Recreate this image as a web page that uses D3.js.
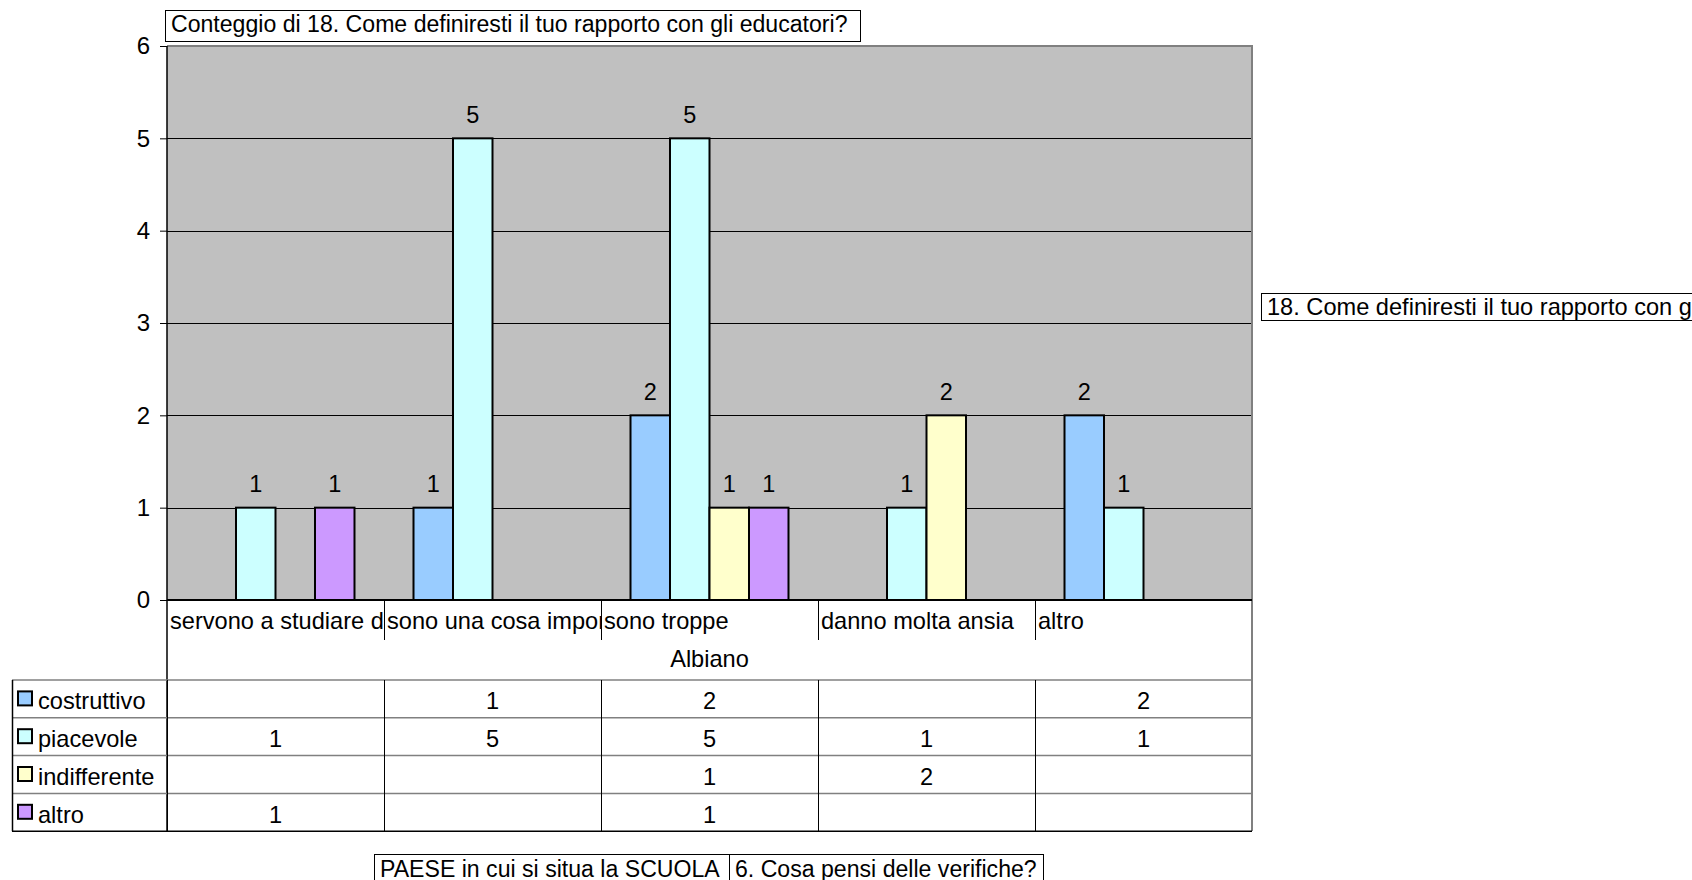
<!DOCTYPE html>
<html><head><meta charset="utf-8">
<script src="https://cdn.jsdelivr.net/npm/d3@7"></script>
<style>body{margin:0;background:#fff}svg{display:block;font-family:"Liberation Sans",Arial,sans-serif}</style>
</head><body>
<script>
const categories = ["servono a studiare di più","sono una cosa importante","sono troppe","danno molta ansia","altro"];
const seriesNames = ["costruttivo","piacevole","indifferente","altro"];
const costruttivo = [null,1,2,null,2];
const piacevole = [1,5,5,1,1];
const indifferente = [null,null,1,2,null];
const altroVals = [1,null,1,null,null];
const yTicks = [0,1,2,3,4,5,6];
const groupLabel = "Albiano";
const chartTitle = "Conteggio di 18. Come definiresti il tuo rapporto con gli educatori?";
const seriesFieldTitle = "18. Come definiresti il tuo rapporto con gli educatori?";
const rowFields = ["PAESE in cui si situa la SCUOLA","6. Cosa pensi delle verifiche?"];
const colors = ["#99CCFF","#CCFFFF","#FFFFCC","#CC99FF"];

const FS=23.6;
const seriesVals = [costruttivo,piacevole,indifferente,altroVals];
const W=1692,H=880;
const svg=d3.select("body").append("svg").attr("width",W).attr("height",H);
const L=167,R=1252,T=46,B=600;
const y=d3.scaleLinear().domain([0,6]).range([B,T]);
const x=d3.scaleBand().domain(categories).range([L,R]).paddingInner(0).paddingOuter(0);
const xs=d3.scaleBand().domain(seriesNames).range([0,x.bandwidth()]).paddingInner(0).paddingOuter(0.747);

// plot background
svg.append("rect").attr("x",L).attr("y",T).attr("width",R-L).attr("height",B-T).attr("fill","#C0C0C0");
// gridlines
svg.append("g").selectAll("line").data(yTicks.filter(d=>d>0&&d<6)).join("line")
 .attr("x1",L).attr("x2",R).attr("y1",d=>Math.round(y(d))+0.5).attr("y2",d=>Math.round(y(d))+0.5)
 .attr("stroke","#000").attr("stroke-width",1);
// plot border top/right
svg.append("path").attr("d",`M${L},${T}H${R}V${831}`).attr("fill","none").attr("stroke","#808080").attr("stroke-width",2);

// bars
const data=[];
categories.forEach((c,i)=>seriesNames.forEach((s,j)=>{const v=seriesVals[j][i]; if(v!=null) data.push({c,s,v,j});}));
svg.append("g").selectAll("rect").data(data).join("rect")
 .attr("x",d=>x(d.c)+xs(d.s)).attr("y",d=>y(d.v)).attr("width",xs.bandwidth()).attr("height",d=>y(0)-y(d.v))
 .attr("fill",d=>colors[d.j]).attr("stroke","#000").attr("stroke-width",2);
// data labels
svg.append("g").selectAll("text").data(data).join("text")
 .attr("x",d=>x(d.c)+xs(d.s)+xs.bandwidth()/2).attr("y",d=>y(d.v)-24).attr("dy","0.35em")
 .attr("text-anchor","middle").attr("font-size",23.5).text(d=>d.v);

// y axis
const ax=d3.axisLeft(y).tickValues(yTicks).tickSize(7).tickPadding(10).tickFormat(d3.format("d"));
const gy=svg.append("g").attr("transform",`translate(${L},0)`).call(ax);
gy.select(".domain").remove();
gy.selectAll("text").attr("font-size",24).attr("font-family","Liberation Sans, Arial, sans-serif").attr("fill","#000");
gy.selectAll("line").attr("stroke","#000");
svg.append("line").attr("x1",L).attr("x2",L).attr("y1",T).attr("y2",832).attr("stroke","#000").attr("stroke-width",1.5);
svg.append("line").attr("x1",L).attr("x2",R).attr("y1",B).attr("y2",B).attr("stroke","#000").attr("stroke-width",2);

// category labels
const defs=svg.append("defs");
categories.forEach((c,i)=>{
  defs.append("clipPath").attr("id","cc"+i).append("rect").attr("x",x(c)).attr("y",B).attr("width",x.bandwidth()).attr("height",40);
});
const cg=svg.append("g");
cg.selectAll("text").data(categories).join("text")
 .attr("clip-path",(d,i)=>`url(#cc${i})`)
 .attr("x",d=>x(d)+3).attr("y",621).attr("dy","0.35em").attr("font-size",FS).text(d=>d);
cg.selectAll("line").data(categories.slice(1)).join("line")
 .attr("x1",d=>x(d)+0.5).attr("x2",d=>x(d)+0.5).attr("y1",B).attr("y2",640).attr("stroke","#000");
svg.append("text").attr("x",(L+R)/2).attr("y",659).attr("dy","0.35em").attr("text-anchor","middle").attr("font-size",FS).text(groupLabel);

// data table
const tT=680,rh=37.8,tL=12;
const tg=svg.append("g");
for(let r=0;r<=4;r++){
  tg.append("line").attr("x1",tL).attr("x2",R).attr("y1",tT+r*rh).attr("y2",tT+r*rh)
   .attr("stroke",r==4?"#000":"#808080").attr("stroke-width",1.5);
}
tg.append("line").attr("x1",tL+0.5).attr("x2",tL+0.5).attr("y1",tT).attr("y2",tT+4*rh).attr("stroke","#000").attr("stroke-width",1.5);
categories.forEach(c=>{
  tg.append("line").attr("x1",x(c)+0.5).attr("x2",x(c)+0.5).attr("y1",tT).attr("y2",tT+4*rh).attr("stroke","#000");
});
seriesNames.forEach((s,j)=>{
  const cy=tT+j*rh+rh/2;
  tg.append("rect").attr("x",18).attr("y",cy-7.5).attr("width",14).attr("height",14).attr("fill",colors[j]).attr("stroke","#000").attr("stroke-width",2);
  tg.append("text").attr("x",38).attr("y",cy+2).attr("dy","0.35em").attr("font-size",FS).text(s);
  categories.forEach((c,i)=>{
    const v=seriesVals[j][i];
    if(v!=null) tg.append("text").attr("x",x(c)+x.bandwidth()/2).attr("y",cy+2).attr("dy","0.35em").attr("text-anchor","middle").attr("font-size",FS).text(v);
  });
});

// title boxes
function box(x0,y0,w,h,txt,ty,fs){
  svg.append("rect").attr("x",x0+0.5).attr("y",y0+0.5).attr("width",w).attr("height",h).attr("fill","#fff").attr("stroke","#000");
  svg.append("text").attr("x",x0+6).attr("y",ty).attr("dy","0.35em").attr("font-size",fs).text(txt);
}
box(165,10,695,31,chartTitle,24,23.1);
box(1261,293,480,27,seriesFieldTitle,307,FS);
box(374,854,355,32,rowFields[0],869,23.1);
box(729,854,314,32,rowFields[1],869,23.1);
</script>
</body></html>
